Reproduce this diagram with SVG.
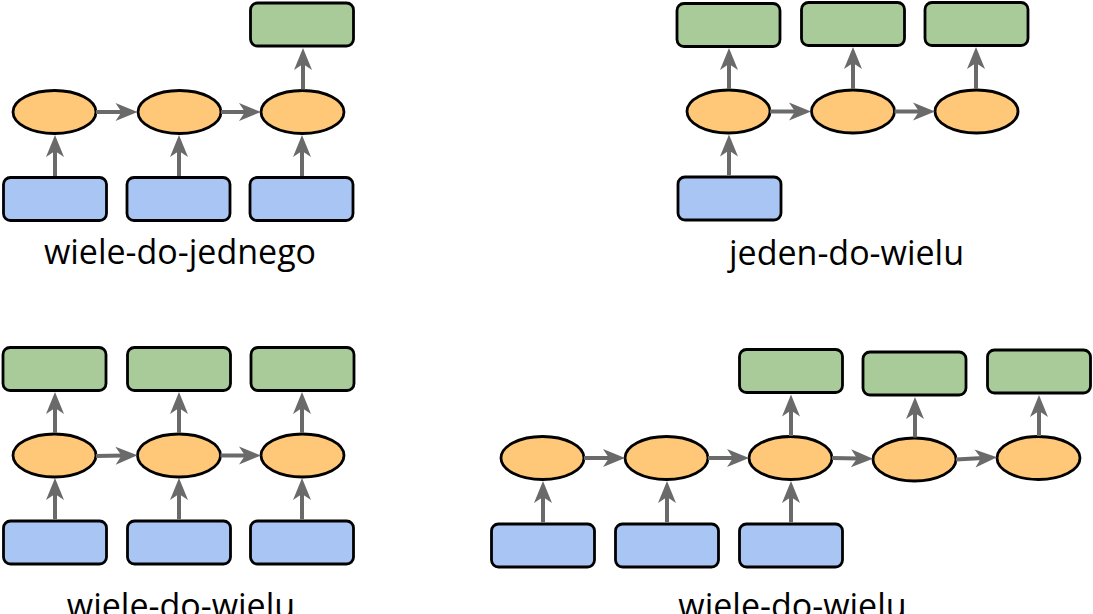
<svg xmlns="http://www.w3.org/2000/svg" width="1093" height="614" viewBox="0 0 1093 614">
  <style>
    .in { fill: #a9c5f4; stroke: #000; stroke-width: 2.8; }
    .out { fill: #a9cb9a; stroke: #000; stroke-width: 2.8; }
    .hid { fill: #fec878; stroke: #000; stroke-width: 2.8; }
    .conn line { stroke: #6a6a6a; stroke-width: 4; fill: none; marker-end: url(#arr); }
    .lbl { font-family: "Open Sans", "DejaVu Sans", sans-serif; font-size: 34px; fill: #000; text-anchor: middle; }
  </style>
  <defs>
    <marker id="arr" markerUnits="userSpaceOnUse" markerWidth="22" markerHeight="18" refX="8" refY="9" orient="auto" overflow="visible">
      <path d="M0,0 L22,9 L0,18 L6,9 Z" fill="#6a6a6a"/>
    </marker>
  </defs>
  <rect width="1093" height="614" fill="#fff"/>

  <!-- Panel 1: wiele-do-jednego -->
  <g id="p1-out1"><rect class="out" x="250.5" y="3" width="103" height="43" rx="7"/></g>
  <g id="p1-h1"><ellipse class="hid" cx="54.5" cy="112" rx="41.5" ry="21.5"/></g>
  <g id="p1-h2"><ellipse class="hid" cx="179.5" cy="112" rx="41.5" ry="21.5"/></g>
  <g id="p1-h3"><ellipse class="hid" cx="302.5" cy="112" rx="41.5" ry="21.5"/></g>
  <g id="p1-in1"><rect class="in" x="3.5" y="177.5" width="103" height="43" rx="7"/></g>
  <g id="p1-in2"><rect class="in" x="127" y="177.5" width="103" height="43" rx="7"/></g>
  <g id="p1-in3"><rect class="in" x="250" y="177.5" width="103" height="43" rx="7"/></g>
  <g id="p1-label"><text class="lbl" x="180" y="264">wiele-do-jednego</text></g>

  <!-- Panel 2: jeden-do-wielu -->
  <g id="p2-out1"><rect class="out" x="677" y="3.5" width="103" height="43" rx="7"/></g>
  <g id="p2-out2"><rect class="out" x="801.5" y="2.5" width="103" height="43" rx="7"/></g>
  <g id="p2-out3"><rect class="out" x="925" y="2.5" width="103" height="43" rx="7"/></g>
  <g id="p2-h1"><ellipse class="hid" cx="728.5" cy="111.5" rx="41.5" ry="21.5"/></g>
  <g id="p2-h2"><ellipse class="hid" cx="853" cy="111.5" rx="41.5" ry="21.5"/></g>
  <g id="p2-h3"><ellipse class="hid" cx="976.5" cy="111.5" rx="41.5" ry="21.5"/></g>
  <g id="p2-in1"><rect class="in" x="678" y="177" width="103" height="43" rx="7"/></g>
  <g id="p2-label"><text class="lbl" x="846.5" y="265">jeden-do-wielu</text></g>

  <!-- Panel 3: wiele-do-wielu (synced) -->
  <g id="p3-out1"><rect class="out" x="3" y="347.5" width="103" height="43" rx="7"/></g>
  <g id="p3-out2"><rect class="out" x="127.5" y="347.5" width="103" height="43" rx="7"/></g>
  <g id="p3-out3"><rect class="out" x="251" y="347.5" width="103" height="43" rx="7"/></g>
  <g id="p3-h1"><ellipse class="hid" cx="54.5" cy="455.5" rx="41.5" ry="21.5"/></g>
  <g id="p3-h2"><ellipse class="hid" cx="179" cy="455.5" rx="41.5" ry="21.5"/></g>
  <g id="p3-h3"><ellipse class="hid" cx="302.5" cy="455.5" rx="41.5" ry="21.5"/></g>
  <g id="p3-in1"><rect class="in" x="3.5" y="521" width="103" height="43" rx="7"/></g>
  <g id="p3-in2"><rect class="in" x="127.5" y="521" width="103" height="43" rx="7"/></g>
  <g id="p3-in3"><rect class="in" x="250.5" y="521" width="103" height="43" rx="7"/></g>
  <g id="p3-label"><text class="lbl" x="181" y="618">wiele-do-wielu</text></g>

  <!-- Panel 4: wiele-do-wielu (encoder-decoder) -->
  <g id="p4-out1"><rect class="out" x="739.5" y="349.5" width="103" height="43" rx="7"/></g>
  <g id="p4-out2"><rect class="out" x="863" y="352" width="103" height="43" rx="7"/></g>
  <g id="p4-out3"><rect class="out" x="987.5" y="350" width="103" height="43" rx="7"/></g>
  <g id="p4-h1"><ellipse class="hid" cx="542.5" cy="458" rx="41.5" ry="21.5"/></g>
  <g id="p4-h2"><ellipse class="hid" cx="666.5" cy="458" rx="41.5" ry="21.5"/></g>
  <g id="p4-h3"><ellipse class="hid" cx="790.5" cy="458" rx="41.5" ry="21.5"/></g>
  <g id="p4-h4"><ellipse class="hid" cx="914.5" cy="459.5" rx="41.5" ry="21.5"/></g>
  <g id="p4-h5"><ellipse class="hid" cx="1038.5" cy="458" rx="41.5" ry="21.5"/></g>
  <g id="p4-in1"><rect class="in" x="491.5" y="524" width="103" height="43" rx="7"/></g>
  <g id="p4-in2"><rect class="in" x="615.5" y="524" width="103" height="43" rx="7"/></g>
  <g id="p4-in3"><rect class="in" x="739.5" y="524" width="103" height="43" rx="7"/></g>
  <g id="p4-label"><text class="lbl" x="792.5" y="618">wiele-do-wielu</text></g>

  <!-- Connectors -->
  <g id="connectors" class="conn">
    <!-- panel 1 -->
    <line x1="55" y1="176" x2="55" y2="149"/>
    <line x1="179" y1="176" x2="179" y2="149"/>
    <line x1="302" y1="176" x2="302" y2="149"/>
    <line x1="303" y1="89.5" x2="303" y2="62"/>
    <line x1="96" y1="112" x2="123.5" y2="112"/>
    <line x1="221" y1="112" x2="247" y2="112"/>
    <!-- panel 2 -->
    <line x1="729" y1="175.5" x2="729" y2="148.5"/>
    <line x1="729" y1="89" x2="729" y2="62"/>
    <line x1="853" y1="89" x2="853" y2="61"/>
    <line x1="976" y1="89" x2="976" y2="61"/>
    <line x1="770" y1="111.5" x2="797" y2="111.5"/>
    <line x1="894.5" y1="111.5" x2="921" y2="111.5"/>
    <!-- panel 3 -->
    <line x1="55" y1="519.5" x2="55" y2="492"/>
    <line x1="179" y1="519.5" x2="179" y2="492"/>
    <line x1="302" y1="519.5" x2="302" y2="492"/>
    <line x1="55" y1="433" x2="55" y2="406"/>
    <line x1="179" y1="433" x2="179" y2="406"/>
    <line x1="302" y1="433" x2="302" y2="406"/>
    <line x1="96" y1="456" x2="123.5" y2="455.5"/>
    <line x1="220.5" y1="455.5" x2="247" y2="455.5"/>
    <!-- panel 4 -->
    <line x1="543" y1="522.5" x2="543" y2="495"/>
    <line x1="667" y1="522.5" x2="667" y2="495"/>
    <line x1="791" y1="522.5" x2="791" y2="495"/>
    <line x1="791" y1="436" x2="791" y2="408.5"/>
    <line x1="915" y1="437.5" x2="915" y2="411"/>
    <line x1="1039" y1="436" x2="1039" y2="409"/>
    <line x1="584" y1="458" x2="611" y2="458"/>
    <line x1="708" y1="458" x2="735" y2="458"/>
    <line x1="832" y1="458" x2="859" y2="458.5"/>
    <line x1="956" y1="459.5" x2="983" y2="458"/>
  </g>
</svg>
